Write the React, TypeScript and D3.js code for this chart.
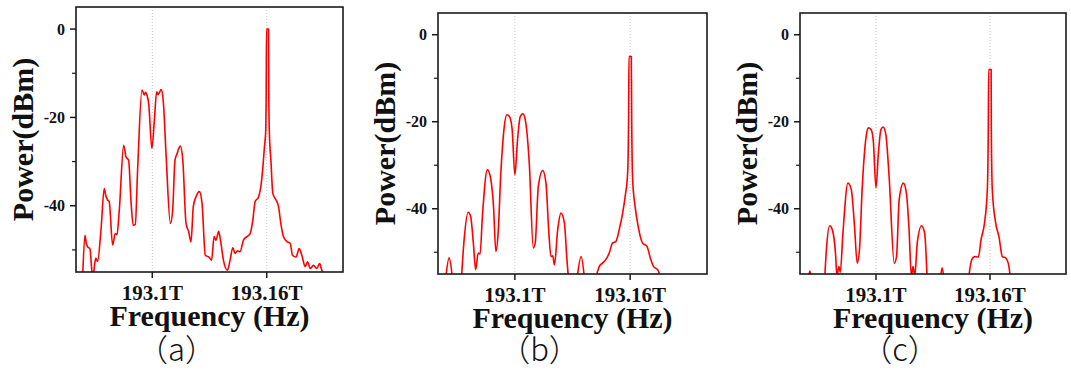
import React from "react";
import * as d3 from "d3";

type Pt = [number, number] | null;

// frequency (THz), power (dBm); null = trace leaves the visible range
const specA: Pt[] = [
  [193.0635, -56], [193.0647, -46.7], [193.0654, -48.5], [193.0661, -49.3], [193.0673, -49.7],
  [193.0683, -54.6], [193.069, -56], [193.0697, -53.5], [193.0704, -51.9], [193.0713, -52.6],
  [193.0731, -45.5], [193.0748, -36.1], [193.0755, -37.5], [193.0766, -38.7], [193.0774, -39.0],
  [193.0792, -48.9], [193.0806, -46.3], [193.0815, -46.5], [193.0827, -41], [193.085, -26.3],
  [193.0862, -28.9], [193.0876, -29.7], [193.0888, -38.7], [193.09, -44.4], [193.0911, -44.2],
  [193.0923, -31.9], [193.0946, -13.8], [193.0958, -14.9], [193.0965, -14.3], [193.0972, -14.9],
  [193.0981, -16.8], [193.0998, -27.0], [193.1011, -20.6], [193.1023, -14.2], [193.103, -14.8],
  [193.1037, -14.4], [193.1047, -13.7], [193.1058, -16.5], [193.1072, -28.2], [193.1095, -44.0],
  [193.1107, -41], [193.1119, -29.7], [193.113, -28.2], [193.1147, -26.5], [193.116, -29.7],
  [193.1177, -44.0], [193.1191, -45.9], [193.1203, -48.2], [193.1215, -40.2], [193.1229, -38.0],
  [193.1247, -36.8], [193.1261, -39.5], [193.1278, -51.2], [193.1296, -51.6], [193.1311, -52.3],
  [193.1324, -47.0], [193.1334, -47.8], [193.1348, -45.8], [193.1359, -48.2], [193.1373, -52.3],
  [193.1394, -54.6], [193.1408, -52.3], [193.1422, -49.5], [193.1434, -50.8], [193.1446, -50.2],
  [193.146, -50.4], [193.1478, -47.8], [193.1496, -47.0], [193.1513, -46.3], [193.1527, -43.3],
  [193.1539, -39.1], [193.1557, -38.0], [193.1569, -35.7], [193.158, -31.2], [193.1588, -26.7],
  [193.1595, -22.9], [193.1597, -16], [193.1599, 0], [193.1609, 0], [193.1611, -16],
  [193.1614, -23.6], [193.1622, -29.7], [193.1632, -37.2], [193.1649, -38.7], [193.1662, -40.2],
  [193.1674, -44.0], [193.1688, -47.0], [193.1709, -48.2], [193.1723, -48.5], [193.1735, -51.2],
  [193.1754, -51.6], [193.177, -49.7], [193.1784, -51.2], [193.1802, -53.8], [193.1814, -52.7],
  [193.1828, -54.2], [193.1845, -53.5], [193.1863, -54.2], [193.1877, -53.1], [193.1889, -54.6],
  [193.1901, -56],
];

const specB: Pt[] = [
  [193.064, -56], [193.0658, -51.3], [193.0675, -56], null,
  [193.0722, -56], [193.0736, -47.1], [193.0757, -40.8], [193.077, -41.8], [193.0784, -47.9],
  [193.0796, -54.0], [193.0809, -50.2], [193.0819, -50.4], [193.0831, -41.8], [193.0857, -31.0],
  [193.0875, -33.3], [193.0889, -39.5], [193.0901, -49.8], [193.0913, -45.6], [193.0927, -31.8],
  [193.0945, -21.1], [193.0958, -18.4], [193.0972, -18.8], [193.0986, -21.8], [193.1, -32.2],
  [193.1014, -24.1], [193.1028, -18.8], [193.1042, -18.2], [193.1057, -20.3], [193.1075, -29.5],
  [193.1096, -49.0], [193.1106, -47.9], [193.1122, -34.9], [193.1145, -31.2], [193.1162, -34.1],
  [193.1176, -44.8], [193.1188, -51.0], [193.1197, -50.8], [193.1206, -52.9], [193.1223, -44.8],
  [193.124, -41.0], [193.1258, -43.3], [193.1271, -51.7], [193.1279, -56], null,
  [193.1324, -56], [193.1345, -51.0], [193.1362, -56], null,
  [193.1421, -56], [193.1439, -53.3], [193.1456, -52.5], [193.1473, -51.7], [193.1491, -50.2],
  [193.1508, -47.9], [193.1526, -47.5], [193.1543, -44.8], [193.1561, -41.0], [193.1574, -37.2],
  [193.1587, -31.8], [193.1592, -18.8], [193.1594, -5], [193.1606, -5], [193.1608, -18.8],
  [193.1613, -33.3], [193.1626, -39.5], [193.1642, -44.1], [193.1665, -47.9], [193.1688, -48.7],
  [193.1705, -51.3], [193.1722, -53.3], [193.1743, -54.0], [193.1761, -56],
];

const specC: Pt[] = [
  [193.0644, -56], [193.0652, -54.3], [193.066, -56], null,
  [193.073, -56], [193.0739, -49.4], [193.0756, -43.9], [193.077, -44.8], [193.0788, -51.0],
  [193.0794, -55.5], [193.0805, -53.3], [193.0812, -54.6], [193.0826, -45.6], [193.0852, -34.1],
  [193.087, -35.6], [193.0887, -44.1], [193.0901, -52.5], [193.0913, -49.4], [193.0927, -35.6],
  [193.0948, -23.4], [193.096, -21.4], [193.0974, -21.8], [193.0986, -24.5], [193.1, -35.2],
  [193.1012, -27.6], [193.1026, -21.8], [193.1038, -21.2], [193.1052, -23.0], [193.1069, -32.6],
  [193.1096, -52.5], [193.1108, -51.0], [193.1122, -37.9], [193.1144, -34.1], [193.116, -36.4],
  [193.1174, -44.8], [193.1186, -55.5], [193.1195, -53.3], [193.1204, -55.5], [193.1217, -47.9],
  [193.124, -43.9], [193.1256, -45.6], [193.1269, -56], null,
  [193.1339, -56], [193.1348, -53.6], [193.1357, -56], null,
  [193.1487, -56], [193.1504, -51.7], [193.1518, -51.0], [193.1539, -51.1], [193.1553, -47.1],
  [193.1571, -43.3], [193.1586, -35.6], [193.1591, -21.8], [193.1593, -8], [193.1606, -8],
  [193.1607, -21.8], [193.1612, -35.6], [193.163, -43.3], [193.1647, -46.4], [193.1665, -51.0],
  [193.1682, -51.3], [193.1696, -52.5], [193.1708, -56],
];

const xDomain: [number, number] = [193.06, 193.2];
const yDomain: [number, number] = [-55, 5];
const xTicks = [193.1, 193.16];
const xTickLabels = ["193.1T", "193.16T"];
const yTicks = [0, -20, -40];
const yMinorTicks = [-10, -30, -50];
const xTitle = "Frequency (Hz)";
const yTitle = "Power(dBm)";
const panelLetters = ["a", "b", "c"];

const layouts = [
  { left: 76, right: 343, top: 7, bottom: 272 },
  { left: 438, right: 707, top: 13, bottom: 274 },
  { left: 800, right: 1066, top: 13, bottom: 274 },
];

const SERIF = "'Liberation Serif', 'Times New Roman', serif";
const CJK = "'Noto Sans CJK SC', sans-serif";

function Panel({ data, lay, letter, idx }: { data: Pt[]; lay: typeof layouts[0]; letter: string; idx: number }) {
  const x = d3.scaleLinear().domain(xDomain).range([lay.left, lay.right]);
  const y = d3.scaleLinear().domain(yDomain).range([lay.bottom, lay.top]);
  const line = d3
    .line<Pt>()
    .defined((d) => d !== null)
    .x((d) => x((d as [number, number])[0]))
    .y((d) => y((d as [number, number])[1]))
    .curve(d3.curveMonotoneX);
  const cx = (lay.left + lay.right) / 2;
  const cy = (lay.top + lay.bottom) / 2;
  const clipId = `clip-${idx}`;
  return (
    <g>
      <defs>
        <clipPath id={clipId}>
          <rect x={lay.left} y={lay.top} width={lay.right - lay.left} height={lay.bottom - lay.top} />
        </clipPath>
      </defs>
      {xTicks.map((t) => (
        <line key={"g" + t} x1={x(t)} x2={x(t)} y1={lay.top} y2={lay.bottom} stroke="#c8c8c8" strokeWidth={1} strokeDasharray="1,2" />
      ))}
      <path d={line(data) || ""} fill="none" stroke="#ff0000" strokeWidth={1.6} strokeLinejoin="round" clipPath={`url(#${clipId})`} />
      <rect x={lay.left} y={lay.top} width={lay.right - lay.left} height={lay.bottom - lay.top} fill="none" stroke="#1a1a1a" strokeWidth={1.6} />
      {yTicks.map((t) => (
        <g key={"y" + t}>
          <line x1={lay.left - 6} x2={lay.left} y1={y(t)} y2={y(t)} stroke="#1a1a1a" strokeWidth={1.5} />
          <text x={lay.left - 11} y={y(t)} dy="0.35em" textAnchor="end" fontFamily={SERIF} fontWeight="bold" fontSize={16} fill="#111">
            {t}
          </text>
        </g>
      ))}
      {yMinorTicks.map((t) => (
        <line key={"ym" + t} x1={lay.left - 4} x2={lay.left} y1={y(t)} y2={y(t)} stroke="#1a1a1a" strokeWidth={1.2} />
      ))}
      {xTicks.map((t, i) => (
        <g key={"x" + t}>
          <line x1={x(t)} x2={x(t)} y1={lay.bottom} y2={lay.bottom + 6} stroke="#1a1a1a" strokeWidth={1.5} />
          <text x={x(t)} y={lay.bottom + 28} textAnchor="middle" fontFamily={SERIF} fontWeight={600} fontSize={21} fill="#111">
            {xTickLabels[i]}
          </text>
        </g>
      ))}
      <text x={cx} y={lay.bottom + 54} textAnchor="middle" fontFamily={SERIF} fontWeight="bold" fontSize={30} fill="#111">
        {xTitle}
      </text>
      <text
        transform={`translate(${lay.left - 43},${cy}) rotate(-90)`}
        textAnchor="middle"
        fontFamily={SERIF}
        fontWeight="bold"
        fontSize={30}
        fill="#111"
      >
        {yTitle}
      </text>
      <text x={cx - 33} y={361} textAnchor="middle" fontFamily={CJK} fontWeight={300} fontSize={31} fill="#111">
        {`（${letter}）`}
      </text>
    </g>
  );
}

export default function App() {
  const specs = [specA, specB, specC];
  return (
    <svg width={1071} height={371} style={{ position: "absolute", left: 0, top: 0, background: "#fff" }}>
      <rect x={0} y={0} width={1071} height={371} fill="#fff" />
      {specs.map((s, i) => (
        <Panel key={i} data={s} lay={layouts[i]} letter={panelLetters[i]} idx={i} />
      ))}
    </svg>
  );
}
